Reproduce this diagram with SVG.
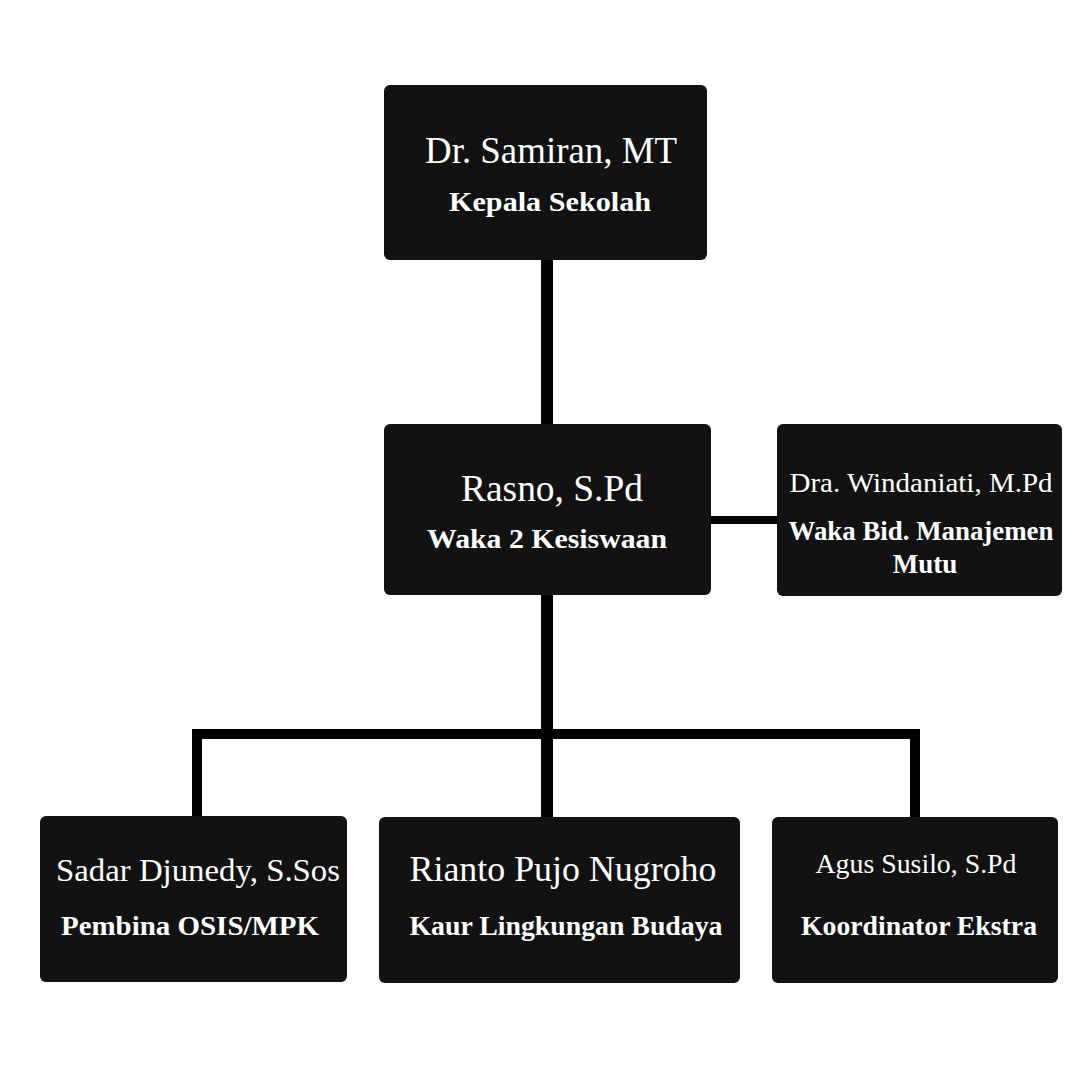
<svg xmlns="http://www.w3.org/2000/svg" width="1080" height="1080" viewBox="0 0 1080 1080">
<style>
.box{fill:#121212}
.name{font-family:"Liberation Serif","Times New Roman",serif;fill:#fff;font-weight:normal}
.role{font-family:"Liberation Serif","Times New Roman",serif;fill:#fff;font-weight:bold}
.conn{fill:#000}
</style>
<rect width="1080" height="1080" fill="#fff"/>
<g id="connectors">
<rect class="conn" x="541" y="258" width="12" height="168"/>
<rect class="conn" x="541" y="593" width="12" height="225"/>
<rect class="conn" x="709" y="516" width="70" height="8"/>
<rect class="conn" x="192" y="729" width="727" height="10"/>
<rect class="conn" x="192" y="729" width="10" height="89"/>
<rect class="conn" x="910" y="729" width="10" height="89"/>
</g>
<g id="kepala">
<rect class="box" x="384" y="85" width="323" height="175" rx="6"/>
<text class="name" x="551" y="163" font-size="38" text-anchor="middle" textLength="252" lengthAdjust="spacingAndGlyphs">Dr. Samiran, MT</text>
<text class="role" x="550" y="211" font-size="27" text-anchor="middle" textLength="202" lengthAdjust="spacingAndGlyphs">Kepala Sekolah</text>
</g>
<g id="waka2">
<rect class="box" x="384" y="424" width="327" height="171" rx="6"/>
<text class="name" x="552" y="501" font-size="38" text-anchor="middle" textLength="182" lengthAdjust="spacingAndGlyphs">Rasno, S.Pd</text>
<text class="role" x="547" y="548" font-size="27" text-anchor="middle" textLength="240" lengthAdjust="spacingAndGlyphs">Waka 2 Kesiswaan</text>
</g>
<g id="wakamutu">
<rect class="box" x="777" y="424" width="285" height="172" rx="6"/>
<text class="name" x="921" y="492" font-size="27" text-anchor="middle" textLength="263" lengthAdjust="spacingAndGlyphs">Dra. Windaniati, M.Pd</text>
<text class="role" x="921" y="540" font-size="27" text-anchor="middle" textLength="265" lengthAdjust="spacingAndGlyphs">Waka Bid. Manajemen</text>
<text class="role" x="925" y="573" font-size="27" text-anchor="middle">Mutu</text>
</g>
<g id="pembina">
<rect class="box" x="40" y="816" width="307" height="166" rx="6"/>
<text class="name" x="198" y="881" font-size="32" text-anchor="middle" textLength="284" lengthAdjust="spacingAndGlyphs">Sadar Djunedy, S.Sos</text>
<text class="role" x="190" y="935" font-size="27" text-anchor="middle" textLength="258" lengthAdjust="spacingAndGlyphs">Pembina OSIS/MPK</text>
</g>
<g id="kaur">
<rect class="box" x="379" y="817" width="361" height="166" rx="6"/>
<text class="name" x="563" y="881" font-size="35" text-anchor="middle" textLength="307" lengthAdjust="spacingAndGlyphs">Rianto Pujo Nugroho</text>
<text class="role" x="566" y="935" font-size="27" text-anchor="middle" textLength="313" lengthAdjust="spacingAndGlyphs">Kaur Lingkungan Budaya</text>
</g>
<g id="koordinator">
<rect class="box" x="772" y="817" width="286" height="166" rx="6"/>
<text class="name" x="916" y="873" font-size="28" text-anchor="middle" textLength="201" lengthAdjust="spacingAndGlyphs">Agus Susilo, S.Pd</text>
<text class="role" x="919" y="935" font-size="27" text-anchor="middle" textLength="236" lengthAdjust="spacingAndGlyphs">Koordinator Ekstra</text>
</g>
</svg>
